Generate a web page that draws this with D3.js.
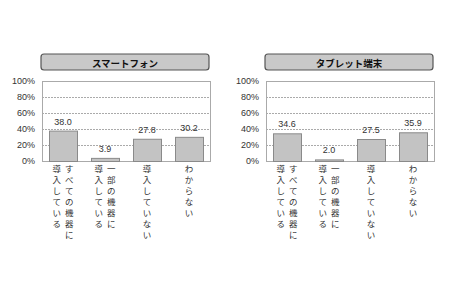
<!DOCTYPE html>
<html>
<head>
<meta charset="utf-8">
<script src="https://cdn.jsdelivr.net/npm/d3@7"></script>
<style>
  body { margin: 0; background: #fff; }
  text { font-family: "Liberation Sans", Arial, sans-serif; }
  .jp { font-family: "Noto Sans CJK JP", sans-serif; }
</style>
</head>
<body>
<div id="canvas"></div>
<script>
// categories: each label is split into vertical columns (right column read first)
var categories = [
  ["すべての機器に", "導入している"],
  ["一部の機器に", "導入している"],
  ["導入していない"],
  ["わからない"]
];
var titles = ["スマートフォン", "タブレット端末"];
var smartphone = [38.0, 3.9, 27.8, 30.2];
var tablet = [34.6, 2.0, 27.5, 35.9];
var yTicks = [0, 20, 40, 60, 80, 100];

var svg = d3.select("#canvas").append("svg")
    .attr("width", 450)
    .attr("height", 300);

function panel(left, title, values) {
  var margin = {top: 81, bottom: 161},
      x0 = left, x1 = left + 168;

  var g = svg.append("g");

  var x = d3.scaleBand()
      .domain(d3.range(categories.length))
      .range([x0, x1])
      .paddingInner(1/3)
      .paddingOuter(1/6);
  var y = d3.scaleLinear()
      .domain([0, 100])
      .range([margin.bottom, margin.top]);

  // title box
  g.append("rect")
      .attr("x", x0 - 1).attr("y", 54)
      .attr("width", x1 - x0).attr("height", 16)
      .attr("rx", 3)
      .attr("fill", "#c9c9c9")
      .attr("stroke", "#555").attr("stroke-width", 1.2);
  g.append("text")
      .attr("class", "jp")
      .attr("x", (x0 + x1) / 2 - 1).attr("y", 62.5)
      .attr("text-anchor", "middle")
      .attr("dominant-baseline", "central")
      .attr("font-size", 9.5).attr("font-weight", "bold")
      .attr("fill", "#111")
      .text(title);

  // gridlines
  g.selectAll(".grid").data(yTicks.slice(1, -1)).enter().append("line")
      .attr("x1", x0).attr("x2", x1)
      .attr("y1", d => y(d) + 0.5).attr("y2", d => y(d) + 0.5)
      .attr("stroke", "#aaa").attr("stroke-dasharray", "2,1");

  // plot border
  g.append("rect")
      .attr("x", x0 + 0.5).attr("y", y(100) + 0.5)
      .attr("width", x1 - x0).attr("height", y(0) - y(100))
      .attr("fill", "none").attr("stroke", "#aaa");

  // y axis labels
  var ax = g.append("g")
      .attr("transform", "translate(" + x0 + ",0)")
      .call(d3.axisLeft(y).tickValues(yTicks).tickSize(0).tickPadding(7).tickFormat(d => d + "%"));
  ax.select(".domain").remove();
  ax.selectAll("text").attr("font-size", 9).attr("fill", "#333")
      .attr("font-family", "Liberation Sans, Arial, sans-serif");

  // bars
  g.selectAll(".bar").data(values).enter().append("rect")
      .attr("x", (d, i) => x(i) + 0.5)
      .attr("y", d => y(d) + 0.5)
      .attr("width", x.bandwidth())
      .attr("height", d => y(0) - y(d))
      .attr("fill", "#c3c3c3")
      .attr("stroke", "#8a8a8a");

  // values
  g.selectAll(".val").data(values).enter().append("text")
      .attr("x", (d, i) => x(i) + x.bandwidth() / 2)
      .attr("y", d => y(d) - 6)
      .attr("text-anchor", "middle")
      .attr("font-size", 9).attr("fill", "#333")
      .text(d => d.toFixed(1));

  // vertical category labels
  categories.forEach(function(cols, i) {
    var cx = x(i) + x.bandwidth() / 2;
    var n = cols.length;
    cols.forEach(function(col, c) {
      var colX = cx + ((n - 1) / 2 - c) * 12.5;
      Array.from(col).forEach(function(ch, k) {
        g.append("text")
            .attr("class", "jp")
            .attr("x", colX)
            .attr("y", 168 + k * 11)
            .attr("text-anchor", "middle")
            .attr("dominant-baseline", "central")
            .attr("font-size", 8.5)
            .attr("fill", "#333")
            .text(ch);
      });
    });
  });
}

panel(42, titles[0], smartphone);
panel(266, titles[1], tablet);
</script>
</body>
</html>
